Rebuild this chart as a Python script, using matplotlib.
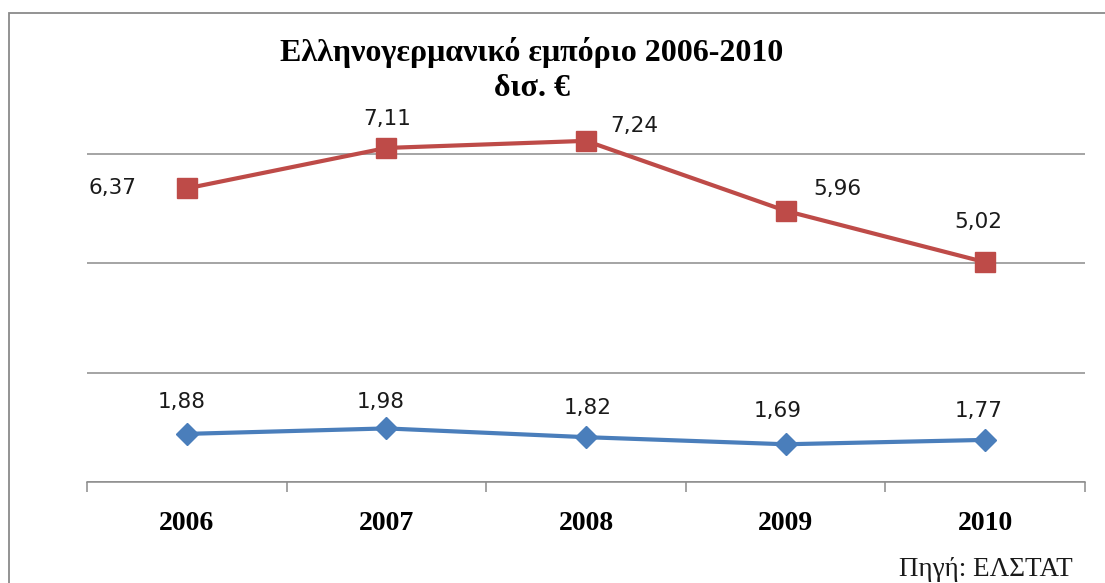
import matplotlib
matplotlib.use("Agg")
import matplotlib.pyplot as plt
from matplotlib.patches import Rectangle

years = ["2006", "2007", "2008", "2009", "2010"]
imports_de = [6.37, 7.11, 7.24, 5.96, 5.02]
exports_de = [1.88, 1.98, 1.82, 1.69, 1.77]
title1 = "Ελληνογερμανικό εμπόριο 2006-2010"
title2 = "δισ. €"
source = "Πηγή: ΕΛΣΤΑΤ"

RED = "#BE4B48"
BLUE = "#4A7EBB"
GRID = "#8C8C8C"

W, H = 1105, 583
fig = plt.figure(figsize=(W / 100, H / 100), dpi=100)

def fx(px):
    return px / W

def fy(py):
    return 1 - py / H

# outer chart border (extends past right/bottom edges)
fig.patches.append(Rectangle((fx(9), fy(640)), fx(1200) - fx(9), fy(13) - fy(640),
                             transform=fig.transFigure, fill=False,
                             edgecolor="#8A8A8A", linewidth=1.3))

ax = fig.add_axes([fx(87), fy(482), fx(1085) - fx(87), fy(99.3) - fy(482)])
x = list(range(len(years)))

ax.set_xlim(-0.5, len(years) - 0.5)
ax.set_ylim(1, 8)
ax.set_yticks([1, 3, 5, 7])
ax.yaxis.grid(True, color=GRID, linewidth=1.1)
ax.set_axisbelow(True)
ax.tick_params(axis="y", left=False, labelleft=False)
for s in ["left", "top", "right"]:
    ax.spines[s].set_visible(False)
ax.spines["bottom"].set_color(GRID)
ax.spines["bottom"].set_linewidth(1.1)

ax.set_xticks(x)
ax.set_xticklabels(years, fontfamily="Liberation Serif", fontweight="bold", fontsize=20)
ax.tick_params(axis="x", length=0, pad=21)
ax.set_xticks([i - 0.5 for i in range(len(years) + 1)], minor=True)
ax.tick_params(axis="x", which="minor", length=7, color=GRID, width=1.1, direction="out")

ax.plot(x, imports_de, color=RED, linewidth=3, marker="s", markersize=14.5,
        markerfacecolor=RED, markeredgecolor=RED, solid_capstyle="round", zorder=3)
ax.plot(x, exports_de, color=BLUE, linewidth=3, marker="D", markersize=11,
        markerfacecolor=BLUE, markeredgecolor=BLUE, solid_capstyle="round", zorder=3)

red_off = [(-74, 0), (1, 29), (48, 15), (52, 22), (-7, 40)]
blue_off = [(-5, 32), (-6, 26), (2, 29), (-8, 33), (-7, 29)]
lab_font = dict(fontfamily="DejaVu Sans", fontsize=15.5, color="#1A1A1A",
                ha="center", va="center")
for xi, v, off in zip(x, imports_de, red_off):
    ax.annotate(f"{v:.2f}".replace(".", ","), (xi, v), xytext=off,
                textcoords="offset pixels", **lab_font)
for xi, v, off in zip(x, exports_de, blue_off):
    ax.annotate(f"{v:.2f}".replace(".", ","), (xi, v), xytext=off,
                textcoords="offset pixels", **lab_font)

fig.text(fx(532), fy(53), title1, fontfamily="Liberation Serif", fontweight="bold",
         fontsize=23, ha="center", va="center", color="#000000")
fig.text(fx(532), fy(89), title2, fontfamily="Liberation Serif", fontweight="bold",
         fontsize=23, ha="center", va="center", color="#000000")
fig.text(fx(1073), fy(569), source, fontfamily="Liberation Serif",
         fontsize=19.5, ha="right", va="center", color="#1A1A1A")

fig.savefig("out.png", dpi=100)
